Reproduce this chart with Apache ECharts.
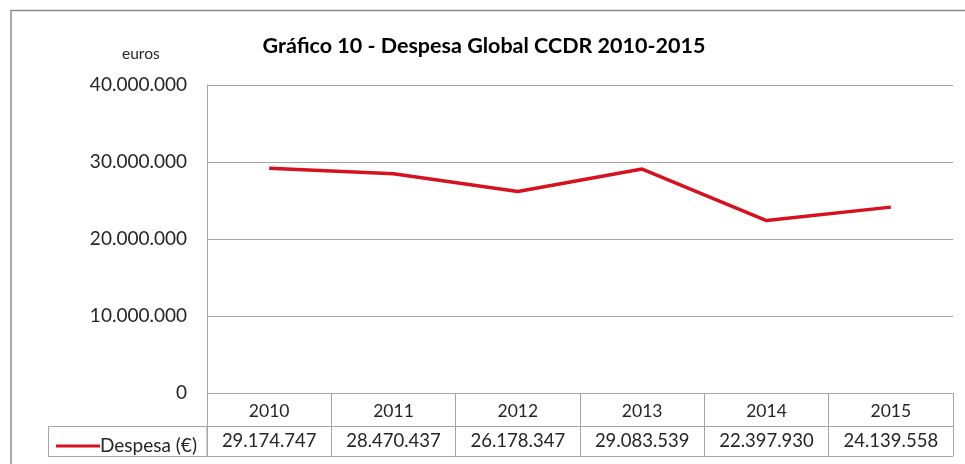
<!DOCTYPE html>
<html>
<head>
<meta charset="utf-8">
<script src="https://cdn.jsdelivr.net/npm/echarts@6/dist/echarts.min.js"></script>
<style>
  html, body { margin: 0; padding: 0; background: #fff; }
  #chart { width: 965px; height: 464px; }
</style>
</head>
<body>
<div id="chart"></div>
<script>
// Despesa global das CCDR, 2010-2015 (euros)
const years = ['2010', '2011', '2012', '2013', '2014', '2015'];
const despesa = [29174747, 28470437, 26178347, 29083539, 22397930, 24139558];
const seriesName = 'Despesa (€)';
const titleText = 'Gráfico 10 - Despesa Global CCDR 2010-2015';
const unitText = 'euros';
const yTicks = [0, 10000000, 20000000, 30000000, 40000000];

const FONT = 'Lato, "Open Sans", sans-serif';
const GRID_COLOR = '#a6a6a6';
const TEXT_COLOR = '#262626';
const LINE_COLOR = '#d7121f';

// thousands separated with dots, pt-PT style
function fmt(v) {
  return String(v).replace(/\B(?=(\d{3})+(?!\d))/g, '.');
}

const grid = { left: 207, right: 12, top: 85, bottom: 71 };
const rowH = 33;      // header row height (years)
const valRowH = 30;   // value row height

const chart = echarts.init(document.getElementById('chart'), null, { renderer: 'canvas' });

const tableAxisBase = {
  type: 'category',
  data: years,
  gridIndex: 0,
  position: 'bottom',
  boundaryGap: true,
  axisLine: { show: true, lineStyle: { color: GRID_COLOR, width: 1 } },
  splitLine: { show: false }
};

chart.setOption({
  animation: false,
  backgroundColor: '#fff',
  title: {
    text: titleText,
    left: 479,
    textAlign: 'center',
    top: 30,
    textStyle: { fontFamily: FONT, fontWeight: 'bold', fontSize: 21.5, color: '#000' }
  },
  grid: grid,
  legend: {
    data: [{ name: seriesName, icon: 'rect' }],
    left: 51,
    top: 431,
    itemWidth: 44,
    itemHeight: 3,
    textStyle: { fontFamily: FONT, fontSize: 19, color: TEXT_COLOR, lineHeight: 20, padding: [0, 0, 0, -5] },
    selectedMode: false
  },
  xAxis: [
    Object.assign({}, tableAxisBase, {
      offset: 0,
      axisTick: { show: true, length: rowH, lineStyle: { color: GRID_COLOR } },
      axisLabel: { margin: 9, fontFamily: FONT, fontSize: 17.5, color: TEXT_COLOR }
    }),
    Object.assign({}, tableAxisBase, {
      offset: rowH,
      axisTick: { show: true, length: valRowH, lineStyle: { color: GRID_COLOR } },
      axisLabel: {
        margin: 6, fontFamily: FONT, fontSize: 18.5, color: TEXT_COLOR,
        formatter: function (v, i) { return fmt(despesa[i]); }
      }
    }),
    Object.assign({}, tableAxisBase, {
      offset: rowH + valRowH,
      axisTick: { show: false },
      axisLabel: { show: false }
    })
  ],
  yAxis: {
    type: 'value',
    min: yTicks[0],
    max: yTicks[yTicks.length - 1],
    interval: yTicks[1] - yTicks[0],
    axisLine: { show: true, lineStyle: { color: GRID_COLOR, width: 1 } },
    axisTick: { show: false },
    splitLine: { show: true, lineStyle: { color: GRID_COLOR, width: 1 } },
    axisLabel: {
      margin: 20,
      fontFamily: FONT, fontSize: 19, color: TEXT_COLOR,
      formatter: fmt
    }
  },
  series: [{
    name: seriesName,
    type: 'line',
    xAxisIndex: 0,
    data: despesa,
    symbol: 'none',
    itemStyle: { color: LINE_COLOR },
    lineStyle: { color: LINE_COLOR, width: 3.5 }
  }],
  graphic: [
    // chart frame (left and top edges)
    {
      type: 'polyline',
      shape: { points: [[11, 464], [11, 10.5], [965, 10.5]] },
      style: { stroke: '#8c8c8c', lineWidth: 1.5, fill: null }
    },
    // legend key cell of the data table
    {
      type: 'rect',
      shape: { x: 48.5, y: 464 - grid.bottom + rowH + 0.5, width: grid.left - 48.5, height: valRowH },
      style: { stroke: GRID_COLOR, lineWidth: 1, fill: null }
    },
    {
      type: 'text',
      left: 122,
      top: 46,
      style: { text: unitText, fontFamily: FONT, fontSize: 15.5, fill: TEXT_COLOR }
    }
  ]
});
</script>
</body>
</html>
